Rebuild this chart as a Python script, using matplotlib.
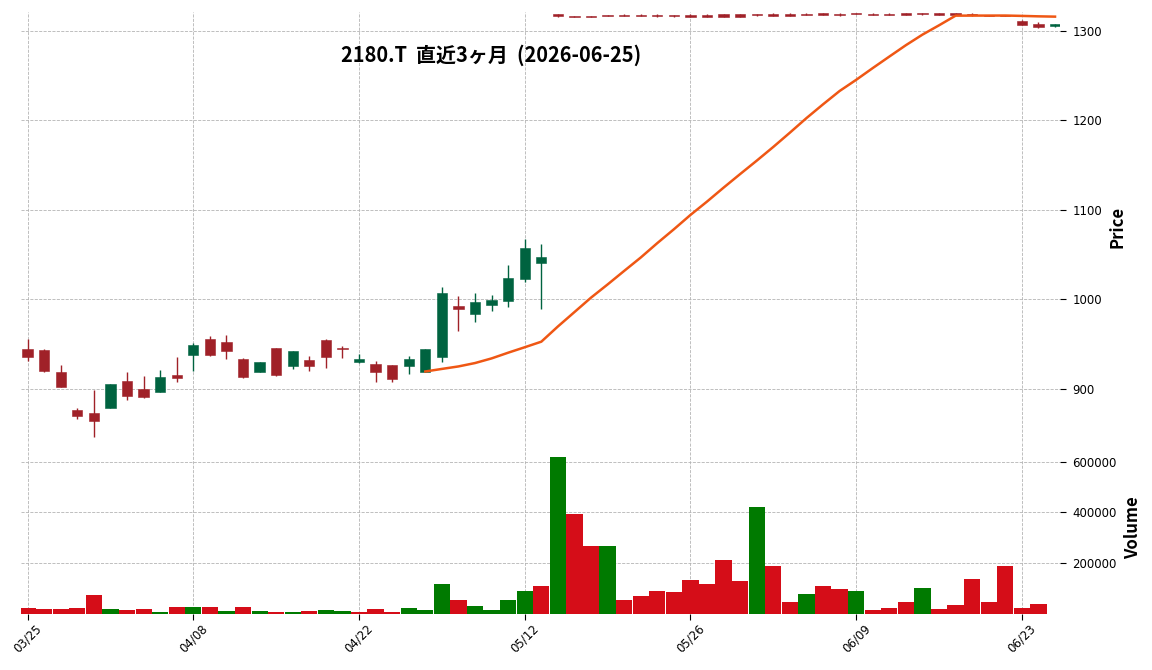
import numpy as np
import pandas as pd
import matplotlib
matplotlib.use('Agg')
import matplotlib.pyplot as plt

plt.rcParams.update({'font.family': ['DejaVu Sans'], 'font.size': 8.5})
JP = ['Noto Sans CJK JP', 'DejaVu Sans']

# ---- data -------------------------------------------------------------
dates = ['03/25', '03/26', '03/27', '03/30', '03/31', '04/01', '04/02', '04/03',
         '04/06', '04/07', '04/08', '04/09', '04/10', '04/13', '04/14', '04/15',
         '04/16', '04/17', '04/20', '04/21', '04/22', '04/23', '04/24', '04/27',
         '04/28', '04/30', '05/01', '05/07', '05/08', '05/11', '05/12', '05/13',
         '05/14', '05/15', '05/18', '05/19', '05/20', '05/21', '05/22', '05/25',
         '05/26', '05/27', '05/28', '05/29', '06/01', '06/02', '06/03', '06/04',
         '06/05', '06/08', '06/09', '06/10', '06/11', '06/12', '06/15', '06/16',
         '06/17', '06/18', '06/19', '06/22', '06/23', '06/24', '06/25']

opens = [944.7, 943.6, 919.0, 876.6, 873.2, 879.1, 908.9, 900.0, 897.0, 915.6,
         938.3, 955.9, 952.9, 933.5, 919.0, 945.8, 926.0, 932.4, 954.8, 945.5,
         930.5, 927.9, 926.8, 926.0, 919.3, 936.1, 992.7, 984.1, 994.2, 998.7,
         1023.3, 1041.1, 1318.6, 1316.4, 1316.2, 1317.4, 1317.6, 1318.2, 1317.6, 1317.4,
         1317.4, 1317.2, 1318.6, 1318.6, 1319.0, 1319.0, 1318.8, 1319.0, 1319.6, 1319.0,
         1319.8, 1319.0, 1319.0, 1319.8, 1319.6, 1319.8, 1319.4, 1319.2, 1317.6, 1317.4,
         1311.5, 1307.8, 1305.6]
highs = [955.5, 944.2, 926.8, 878.4, 898.9, 905.8, 918.7, 914.2, 920.9, 935.4,
         951.1, 959.2, 960.3, 934.2, 930.4, 946.2, 942.7, 936.5, 955.5, 948.4,
         939.4, 930.9, 927.2, 936.5, 945.2, 1013.6, 1004.2, 1007.3, 1004.7, 1038.6,
         1067.3, 1061.7, 1318.9, 1317.0, 1316.6, 1318.2, 1318.4, 1318.6, 1318.4, 1318.2,
         1318.4, 1318.4, 1318.9, 1318.9, 1319.2, 1319.8, 1319.8, 1319.8, 1319.8, 1319.8,
         1320.4, 1319.8, 1319.8, 1320.0, 1320.4, 1320.0, 1319.6, 1319.4, 1317.8, 1317.6,
         1311.8, 1309.9, 1308.0]
lows = [931.6, 919.5, 902.0, 866.2, 846.0, 878.9, 887.4, 889.6, 896.8, 908.2,
        920.1, 937.0, 933.2, 912.6, 918.8, 914.9, 922.0, 919.8, 923.1, 935.0,
        928.7, 907.5, 907.5, 916.4, 919.1, 929.8, 964.8, 974.5, 986.8, 991.3,
        1019.2, 989.0, 1315.6, 1315.2, 1315.0, 1316.0, 1316.2, 1316.0, 1315.8, 1315.6,
        1315.4, 1315.2, 1315.2, 1315.0, 1316.4, 1316.6, 1316.6, 1317.6, 1317.2, 1317.0,
        1318.8, 1317.8, 1317.6, 1317.4, 1318.2, 1317.4, 1317.2, 1317.0, 1316.6, 1316.4,
        1306.5, 1303.4, 1304.5]
closes = [936.1, 920.1, 902.6, 870.2, 864.6, 905.6, 892.5, 891.4, 913.4, 912.6,
          949.2, 938.3, 942.8, 913.7, 930.2, 915.6, 942.5, 926.0, 935.8, 944.8,
          933.5, 919.0, 911.5, 933.5, 945.0, 1007.6, 989.7, 997.2, 999.8, 1024.0,
          1057.5, 1047.8, 1316.0, 1315.8, 1315.6, 1316.8, 1316.6, 1316.4, 1316.2, 1316.0,
          1315.8, 1315.6, 1315.4, 1315.2, 1318.2, 1317.0, 1316.8, 1318.0, 1317.6, 1317.4,
          1319.0, 1318.2, 1318.0, 1317.8, 1318.6, 1317.6, 1317.4, 1317.2, 1316.8, 1316.6,
          1306.7, 1304.5, 1307.8]
volumes = [22600, 18600, 18600, 22600, 74400, 18600, 14600, 18600, 6600, 26600,
           26600, 26600, 10600, 26600, 10600, 6600, 6600, 10600, 14600, 10600,
           6600, 18600, 6600, 22600, 14600, 118300, 54500, 30600, 14600, 54500,
           90400, 110300, 620600, 393400, 265800, 265800, 54500, 70400, 90400, 86400,
           134200, 118300, 210000, 130200, 421300, 190000, 46500, 78400, 110300, 98300,
           90400, 14600, 22600, 46500, 102300, 18600, 34600, 138200, 46500, 190000,
           22600, 38500, 0]

tick_idx = [0, 10, 20, 30, 40, 50, 60]
price_ticks = [900, 1000, 1100, 1200, 1300]
vol_ticks = [200000, 400000, 600000]
title = '2180.T  直近3ヶ月  (2026-06-25)'

# ---- derived columns, as mplfinance would do -------------------------
df = pd.DataFrame({'open': opens, 'high': highs, 'low': lows,
                   'close': closes, 'volume': volumes}, index=dates)
df['mav25'] = df['close'].rolling(25).mean()
x = np.arange(len(df))
up = (df['close'] >= df['open']).values
vup = df['close'].diff().fillna(df['close'] - df['open']).values >= 0

UP, DOWN = '#006340', '#a02128'
VUP, VDOWN = '#007a00', '#d50d18'
MAV = '#ef5714'
GRID = dict(color='#b4b4b4', linestyle='--', linewidth=0.6)

fig = plt.figure(figsize=(11.52, 6.7), dpi=100)
W, H = 1152, 670
L, R = 21, 1060
ax = fig.add_axes([L / W, 1 - 441 / H, (R - L) / W, (441 - 12) / H])
axv = fig.add_axes([L / W, 1 - 613.5 / H, (R - L) / W, (613.5 - 441) / H], sharex=ax)

# candles
ccol = np.where(up, UP, DOWN)
ax.vlines(x, df['low'], df['high'], colors=ccol, linewidth=1.0, zorder=3)
body_lo = np.minimum(df['open'], df['close'])
body_h = np.maximum(np.abs(df['close'] - df['open']), 0.6)
ax.bar(x, body_h, bottom=body_lo, width=0.62, color=ccol, edgecolor=ccol,
       linewidth=0.4, zorder=4)
ax.plot(x, df['mav25'], color=MAV, linewidth=1.8, zorder=5)

# volume
axv.bar(x, df['volume'], width=0.98, color=np.where(vup, VUP, VDOWN),
        linewidth=0, zorder=3)

for a in (ax, axv):
    a.set_facecolor('white')
    for s in a.spines.values():
        s.set_visible(False)
    a.grid(True, **GRID)
    a.set_axisbelow(True)
    a.yaxis.tick_right()
    a.yaxis.set_label_position('right')
    a.tick_params(axis='y', length=4, width=0.8, pad=5, labelsize=8.5)

ax.set_xlim(-0.4, 62.3)
ax.set_xticks(tick_idx)
ax.tick_params(axis='x', length=0, labelbottom=False)
axv.set_xticks(tick_idx)
axv.set_xticklabels([dates[i] for i in tick_idx], rotation=45, ha='center')
axv.tick_params(axis='x', length=4, width=0.8, labelsize=8.5, pad=2)

ax.set_ylim(842, 1321)
ax.set_yticks(price_ticks)
axv.set_ylim(0, 683000)
axv.set_yticks(vol_ticks)
axv.set_yticklabels([str(v) for v in vol_ticks])

ax.set_ylabel('Price', family=JP, fontsize=12, fontweight='bold')
axv.set_ylabel('Volume', family=JP, fontsize=12, fontweight='bold')
for a, px in ((ax, 1118), (axv, 1133)):
    a.yaxis.label.set_verticalalignment('center')
    a.yaxis.set_label_coords((px - L) / (R - L), 0.5)

fig.text(491 / W, 1 - 55 / H, title, family=JP, fontsize=14.4, fontweight='bold',
         ha='center', va='center')

fig.savefig('out.png', dpi=100)
